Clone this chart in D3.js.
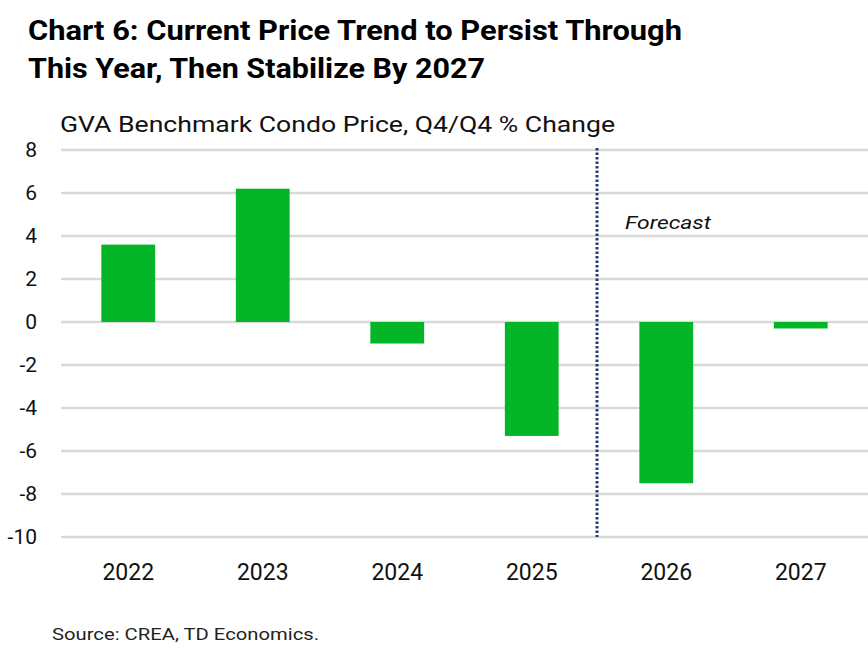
<!DOCTYPE html>
<html>
<head>
<meta charset="utf-8">
<script src="https://cdn.jsdelivr.net/npm/d3@7"></script>
<style>
  body { margin: 0; background: #fff; }
  svg { display: block; font-family: "Roboto", "Liberation Sans", sans-serif; }
</style>
</head>
<body>
<svg id="chart" width="868" height="648"></svg>
<script>
const years = ["2022", "2023", "2024", "2025", "2026", "2027"];
const changes = [3.6, 6.2, -1.0, -5.3, -7.5, -0.3];
const yTicks = [8, 6, 4, 2, 0, -2, -4, -6, -8, -10];
const forecastStart = "2026";

const svg = d3.select("#chart");
const plotLeft = 61, plotRight = 868, plotTop = 150, plotBottom = 537;

const x = d3.scaleBand().domain(years).range([plotLeft, plotRight]).paddingInner(0.6).paddingOuter(0.3);
const y = d3.scaleLinear().domain([-10, 8]).range([plotBottom, plotTop]);

// titles
const title = svg.append("g").attr("font-weight", "bold").attr("fill", "#000");
title.append("text").attr("x", 28).attr("y", 40).attr("font-size", 27)
    .attr("textLength", 654).attr("lengthAdjust", "spacingAndGlyphs")
    .text("Chart 6: Current Price Trend to Persist Through");
title.append("text").attr("x", 28).attr("y", 78).attr("font-size", 27)
    .attr("textLength", 457).attr("lengthAdjust", "spacingAndGlyphs")
    .text("This Year, Then Stabilize By 2027");

svg.append("text").attr("x", 60).attr("y", 132).attr("font-size", 22)
    .attr("textLength", 555).attr("lengthAdjust", "spacingAndGlyphs")
    .attr("fill", "#111")
    .text("GVA Benchmark Condo Price, Q4/Q4 % Change");

// gridlines
svg.append("g").selectAll("line").data(yTicks).enter().append("line")
    .attr("x1", plotLeft).attr("x2", plotRight)
    .attr("y1", d => y(d)).attr("y2", d => y(d))
    .attr("stroke", "#d9d9d9").attr("stroke-width", 2.5);

// y labels
svg.append("g").selectAll("text").data(yTicks).enter().append("text")
    .attr("x", 37).attr("y", d => y(d) + 7)
    .attr("text-anchor", "end").attr("font-size", 21).attr("fill", "#111")
    .text(d => d);

// bars
svg.append("g").selectAll("rect").data(years).enter().append("rect")
    .attr("x", d => x(d))
    .attr("width", x.bandwidth())
    .attr("y", (d, i) => y(Math.max(0, changes[i])))
    .attr("height", (d, i) => Math.abs(y(changes[i]) - y(0)))
    .attr("fill", "#02b628");

// forecast divider
const divX = x(forecastStart) - x.step() * x.paddingInner() / 2 - 2;
svg.append("line")
    .attr("x1", divX).attr("x2", divX).attr("y1", plotTop - 2).attr("y2", plotBottom)
    .attr("stroke", "#23406b").attr("stroke-width", 3).attr("stroke-dasharray", "2.5,2");
svg.append("text").attr("x", divX + 28).attr("y", 229)
    .attr("font-size", 19).attr("font-style", "italic").attr("fill", "#111")
    .attr("textLength", 86).attr("lengthAdjust", "spacingAndGlyphs")
    .text("Forecast");

// x labels
svg.append("g").selectAll("text").data(years).enter().append("text")
    .attr("x", d => x(d) + x.bandwidth() / 2).attr("y", 580)
    .attr("text-anchor", "middle").attr("font-size", 23).attr("fill", "#111")
    .text(d => d);

svg.append("text").attr("x", 52).attr("y", 640).attr("font-size", 17).attr("fill", "#222")
    .attr("textLength", 267).attr("lengthAdjust", "spacingAndGlyphs")
    .text("Source: CREA, TD Economics.");
</script>
</body>
</html>
